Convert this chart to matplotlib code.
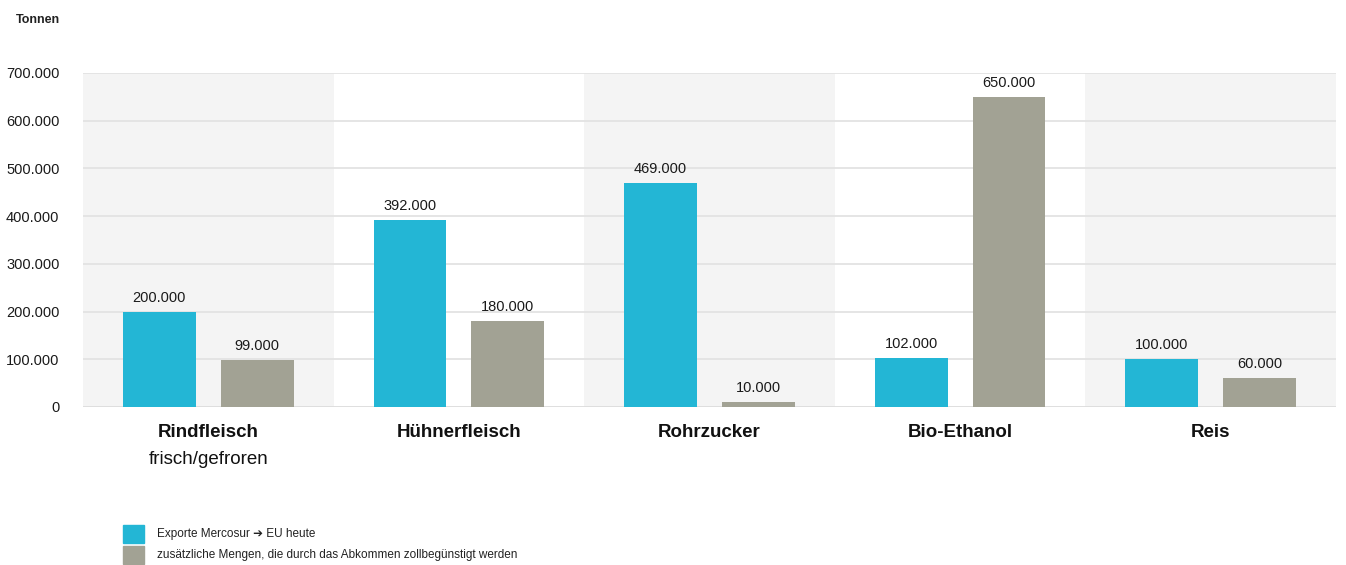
import matplotlib
matplotlib.use("Agg")
import matplotlib.pyplot as plt
from matplotlib.patches import Rectangle
import numpy as np

categories = ["Rindfleisch", "Hühnerfleisch", "Rohrzucker", "Bio-Ethanol", "Reis"]
subtitles = ["frisch/gefroren", "", "", "", ""]
exports_today = [200000, 392000, 469000, 102000, 100000]
additional = [99000, 180000, 10000, 650000, 60000]
value_labels_today = ["200.000", "392.000", "469.000", "102.000", "100.000"]
value_labels_add = ["99.000", "180.000", "10.000", "650.000", "60.000"]
yticks = [0, 100000, 200000, 300000, 400000, 500000, 600000, 700000]
ytick_labels = ["0", "100.000", "200.000", "300.000", "400.000", "500.000", "600.000", "700.000"]
legend_labels = ["Exporte Mercosur \u2794 EU heute",
                 "zusätzliche Mengen, die durch das Abkommen zollbegünstigt werden"]
unit_label = "Tonnen"

BLUE = "#23b6d5"
GRAY = "#a2a294"
BAND = "#f4f4f4"
FONT = ["Liberation Sans", "DejaVu Sans"]
plt.rcParams["font.family"] = FONT

W, H = 1346, 565
fig = plt.figure(figsize=(W / 100, H / 100), dpi=100)
fig.patch.set_facecolor("white")

left, right = 83 / W, 1336 / W
bottom, top = 1 - 407 / H, 1 - 73 / H
ax = fig.add_axes([left, bottom, right - left, top - bottom])
ax.set_facecolor("white")

x = np.arange(len(categories))
ax.set_xlim(-0.5, len(categories) - 0.5)
ax.set_ylim(0, 700000)

# alternating bands
for i in range(len(categories)):
    if i % 2 == 0:
        ax.axvspan(i - 0.5, i + 0.5, color=BAND, zorder=0, lw=0)

# grid
for yt in yticks[1:]:
    ax.axhline(yt, color="#e3e3e3", lw=1.3, zorder=1)
ax.axhline(0, color="#dcdcdc", lw=2.0, zorder=1)

bw = 0.29
off = 0.195
ax.bar(x - off, exports_today, width=bw, color=BLUE, zorder=3)
ax.bar(x + off, additional, width=bw, color=GRAY, zorder=3)

for i in range(len(categories)):
    ax.annotate(value_labels_today[i], (x[i] - off, exports_today[i]),
                xytext=(0, 5), textcoords="offset points", ha="center", va="bottom",
                fontsize=10.5, color="#1a1a1a", zorder=4)
    ax.annotate(value_labels_add[i], (x[i] + off, additional[i]),
                xytext=(0, 5), textcoords="offset points", ha="center", va="bottom",
                fontsize=10.5, color="#1a1a1a", zorder=4)

for s in ax.spines.values():
    s.set_visible(False)

ax.set_yticks(yticks)
ax.set_yticklabels(ytick_labels, fontsize=10.5, color="#1a1a1a")
ax.tick_params(axis="y", length=0, pad=17)
ax.set_xticks(x)
ax.set_xticklabels(categories, fontsize=13.5, fontweight="bold", color="#111111")
ax.tick_params(axis="x", length=0, pad=12)

for i, sub in enumerate(subtitles):
    if sub:
        ax.text(x[i], -0.158, sub, transform=ax.get_xaxis_transform(),
                ha="center", va="center", fontsize=13.5, color="#111111")

fig.text(60 / W, 1 - 20 / H, unit_label, ha="right", va="center",
         fontsize=9, fontweight="bold", color="#222222")

# legend
colors = [BLUE, GRAY]
ys = [525, 546]
for c, yy, lab in zip(colors, ys, legend_labels):
    fig.patches.append(Rectangle((123 / W, 1 - (yy + 18) / H), 21 / W, 18 / H,
                                 transform=fig.transFigure, color=c))
    fig.text(157 / W, 1 - (yy + 9) / H, lab, ha="left", va="center",
             fontsize=8.5, color="#222222")

fig.savefig("out.png", dpi=100, facecolor="white")
